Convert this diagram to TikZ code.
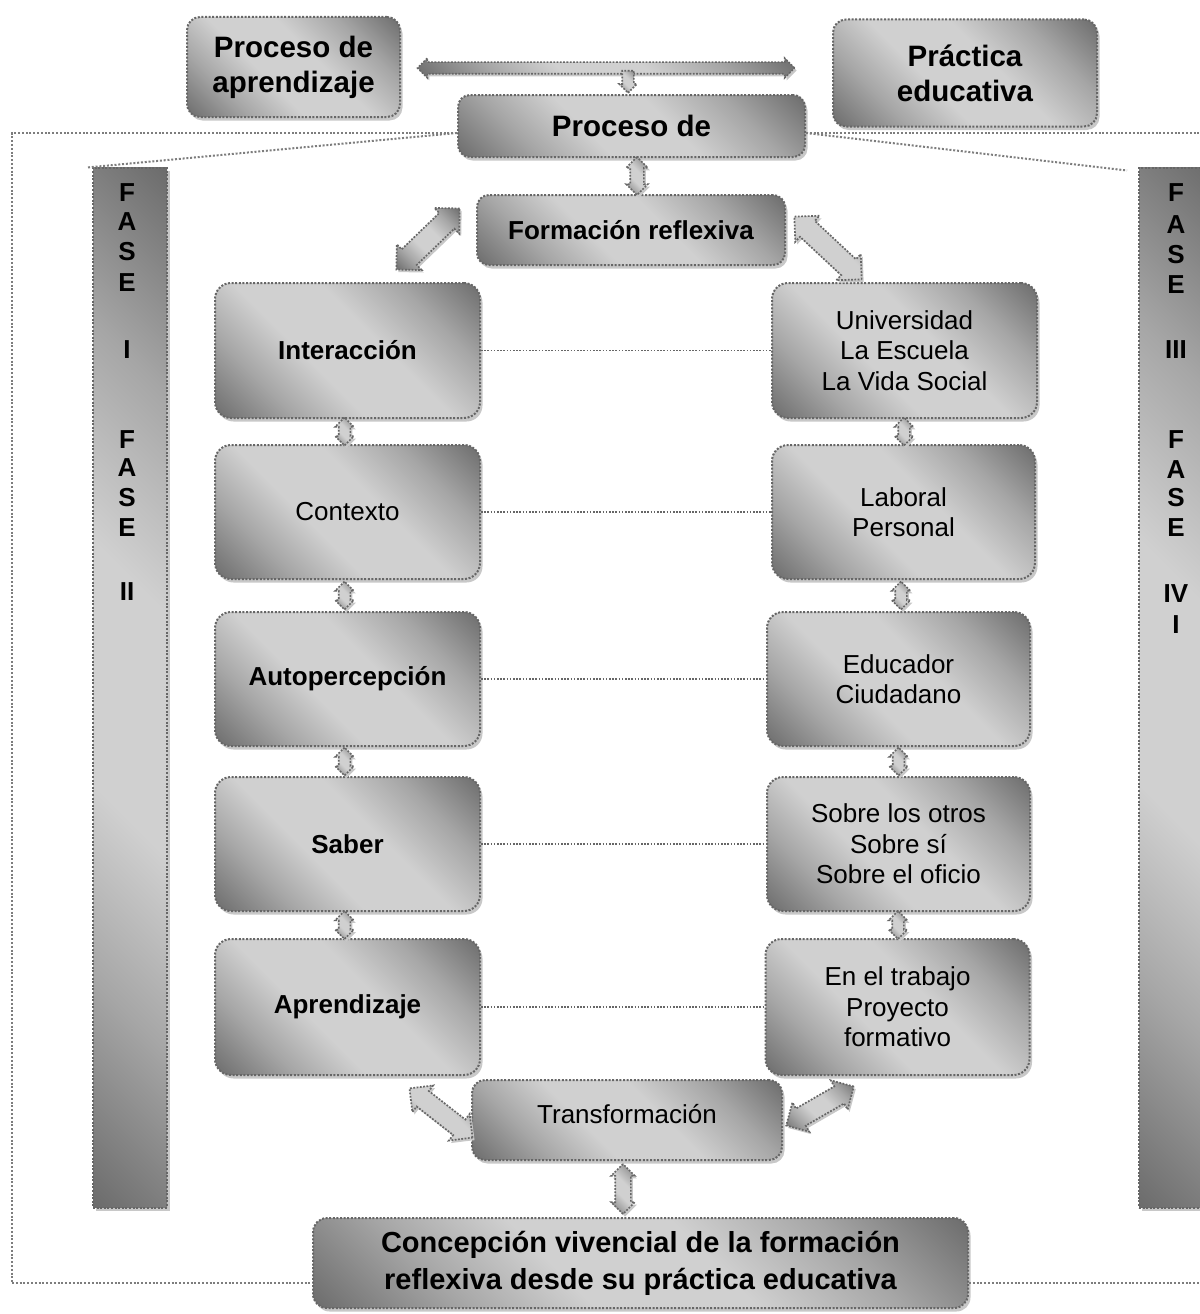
\documentclass[tikz,border=0pt]{standalone}
\usepackage{fontspec}
\setmainfont{Liberation Sans}
\usetikzlibrary{shapes.arrows,shadows,calc}
\definecolor{shd}{HTML}{6C6C6C}
\definecolor{shm}{HTML}{A6A6A6}
\definecolor{shl}{HTML}{D0D0D0}
\definecolor{dotc}{HTML}{666666}
\definecolor{shadowc}{HTML}{C8C8C8}
\pgfdeclarehorizontalshading{boxsh}{100bp}{color(0bp)=(shd); color(14.6bp)=(shd); color(29bp)=(shm); color(41.5bp)=(shl); color(57bp)=(shl); color(71bp)=(shm); color(85.4bp)=(shd); color(100bp)=(shd)}
\tikzset{
  dotborder/.style={draw=dotc, line width=2pt, dash pattern=on 2pt off 1.6pt},
  gbox/.style={dotborder, rounded corners=16pt, shading=boxsh, shading angle=45,
    align=center, inner sep=0pt,
    drop shadow={shadow xshift=2.5pt, shadow yshift=-3.5pt, fill=shadowc, opacity=1},
    font=\fontsize{26}{30.5}\selectfont},
  boldtxt/.style={font=\fontsize{26}{30.5}\selectfont\bfseries},
  toptxt/.style={font=\fontsize{29.5}{35}\selectfont\bfseries},
  gbar/.style={dotborder, shading=boxsh, shading angle=45, inner sep=0pt,
    drop shadow={shadow xshift=3pt, shadow yshift=-3.5pt, fill=shadowc, opacity=1}},
  barletter/.style={inner sep=0pt, font=\fontsize{26}{30}\selectfont\bfseries},
  barr/.style={double arrow, draw=dotc, line width=1.7pt, dash pattern=on 1.8pt off 1.5pt,
    shading=boxsh, shading angle=45, inner xsep=0pt,
    drop shadow={shadow xshift=2pt, shadow yshift=-2.5pt, fill=shadowc, opacity=1}},
  sarr/.style={single arrow, draw=dotc, line width=1.7pt, dash pattern=on 1.8pt off 1.5pt,
    shading=boxsh, shading angle=45, inner xsep=0pt},
  conn/.style={draw=dotc, line width=1.6pt, dash pattern=on 1.6pt off 1.6pt},
  frame/.style={draw=dotc!85, line width=2pt, dash pattern=on 2pt off 1.8pt},
}
\begin{document}
\begin{tikzpicture}[x=1pt,y=-1pt]
\useasboundingbox (0,0) rectangle (1199,1314);

% named frame corners
\coordinate (fTL) at (12,133);
\coordinate (fBL) at (12,1283);
\coordinate (fTR) at (1199,133);
\coordinate (fBR) at (1199,1283);

% side bars
\node[gbar, minimum width=74pt, minimum height=1040pt] (lbar) at (130,687.5) {};
\node[gbar, minimum width=76pt, minimum height=1040pt] (rbar) at (1177,687.5) {};

\foreach \t/\y [count=\i] in {F/193,A/222,S/252,E/283,I/350,F/440,A/468,S/498,E/528,II/592}
  \node[barletter] (ll\i) at (127,\y) {\t};
\foreach \t/\y [count=\i] in {F/193,A/225,S/255,E/285,III/350,F/440,A/470,S/498,E/528,IV/594,I/625}
  \node[barletter] (rl\i) at (1176,\y) {\t};

% top boxes
\node[gbox, toptxt, rounded corners=13pt, minimum width=213pt, minimum height=100pt] (pa) at (293.5,67) {Proceso de\\aprendizaje};
\node[gbox, toptxt, rounded corners=13pt, minimum width=264pt, minimum height=107pt] (pe) at (965,73) {Práctica\\educativa};
\node[gbox, toptxt, rounded corners=12pt, minimum width=347pt, minimum height=62pt] (pd) at (631.5,126) {Proceso de};
\node[gbox, boldtxt, rounded corners=12pt, minimum width=308pt, minimum height=70pt] (fr) at (631,230) {Formación reflexiva};

% frame lines
\draw[frame] (pd.west |- fTL) -- (fTL) -- (fBL);
\draw[frame] (pd.east |- fTR) -- (fTR);
\draw[frame] (pd.west |- fTL) -- ($(lbar.north west)+(-5,1)$);
\draw[frame] (pd.east |- fTR) -- ($(rbar.north west)+(-11,4)$);

% left column
\node[gbox, boldtxt, minimum width=265pt, minimum height=135pt] (inter) at (347.5,350.5) {Interacción};
\node[gbox, minimum width=265pt, minimum height=134pt] (ctx) at (347.5,512) {Contexto};
\node[gbox, boldtxt, minimum width=265pt, minimum height=134pt] (auto) at (347.5,679) {Autopercepción};
\node[gbox, boldtxt, minimum width=265pt, minimum height=134pt] (saber) at (347.5,844) {Saber};
\node[gbox, boldtxt, minimum width=265pt, minimum height=136pt] (apr) at (347.5,1007) {Aprendizaje};

% right column
\node[gbox, minimum width=265pt, minimum height=135pt] (univ) at (904.5,350.5) {Universidad\\La Escuela\\La Vida Social};
\node[gbox, minimum width=263pt, minimum height=134pt] (lab) at (903.5,512) {Laboral\\Personal};
\node[gbox, minimum width=263pt, minimum height=134pt] (edu) at (898.5,679) {Educador\\Ciudadano};
\node[gbox, minimum width=263pt, minimum height=134pt] (sobre) at (898.5,844) {Sobre los otros\\Sobre sí\\Sobre el oficio};
\node[gbox, minimum width=264pt, minimum height=136pt] (trab) at (897.5,1007) {En el trabajo\\Proyecto\\formativo};

% bottom boxes
\node[gbox, rounded corners=13pt, minimum width=310pt, minimum height=80pt] (trans) at (627,1120) {\raisebox{12pt}{Transformación}};
\node[gbox, font=\fontsize{29}{37}\selectfont\bfseries, rounded corners=14pt, minimum width=655pt, minimum height=90pt] (conc) at (640.5,1263) {Concepción vivencial de la formación\\reflexiva desde su práctica educativa};

\draw[frame] (conc.east |- fBR) -- (fBR);
\draw[frame] (fBL) -- (conc.west |- fBL);

% dotted connectors
\draw[conn] (inter.east) -- (univ.west);
\draw[conn] (ctx.east) -- (lab.west);
\draw[conn] (auto.east) -- (edu.west);
\draw[conn] (saber.east) -- (sobre.west);
\draw[conn] (apr.east) -- (trab.west);

% top T arrow
\node[barr, minimum height=377pt, inner ysep=5pt, double arrow head extend=4pt] (ta) at (606,68) {};
\node[sarr, rotate=-90, minimum height=22pt, inner ysep=5pt, single arrow head extend=3pt, anchor=tip] (tb) at (pd.north -| 628,0) {};

% arrow proceso de -> formacion
\node[barr, rotate=90, minimum height=38pt, inner ysep=6pt, double arrow head extend=4pt] (a0) at ($(pd.south -| 637,0)!.5!(fr.north -| 637,0)$) {};

% small arrows in columns
\foreach \a/\b [count=\i] in {inter/ctx,ctx/auto,auto/saber,saber/apr}
  \node[barr, rotate=90, minimum height=28pt, inner ysep=5pt, double arrow head extend=3.5pt] (la\i) at ($(\a.south)!.5!(\b.north)+(-3,0)$) {};
\foreach \a/\b [count=\i] in {univ/lab,lab/edu,edu/sobre,sobre/trab}
  \node[barr, rotate=90, minimum height=28pt, inner ysep=5pt, double arrow head extend=3.5pt] (ra\i) at ($(\a.south)!.5!(\b.north)$) {};

% diagonal arrows
\node[barr, rotate=44, minimum height=88pt, inner ysep=10pt, double arrow head extend=7pt] (d1) at (428,239) {};
\node[barr, rotate=-43, minimum height=92pt, inner ysep=10pt, double arrow head extend=7pt] (d2) at (828,248) {};
\node[barr, rotate=-38, minimum height=80pt, inner ysep=9pt, double arrow head extend=7pt] (d3) at (441,1113) {};
\node[barr, rotate=30, minimum height=78pt, inner ysep=9pt, double arrow head extend=7pt] (d4) at (820,1106) {};

% trans -> concepcion
\node[barr, rotate=90, minimum height=50pt, inner ysep=7pt, double arrow head extend=4pt] (a9) at ($(trans.south -| 623,0)!.5!(conc.north -| 623,0)$) {};
\end{tikzpicture}
\end{document}
